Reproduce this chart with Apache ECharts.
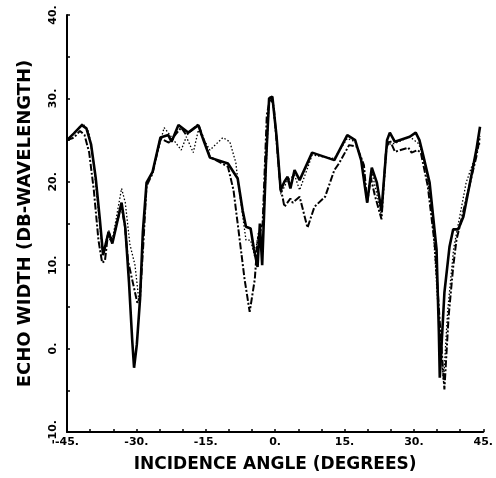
<!DOCTYPE html>
<html lang="en">
<head>
    <meta charset="UTF-8">
    <title>Echo width</title>
    <script type="text/javascript" src="https://cdn.jsdelivr.net/npm/echarts@6/dist/echarts.min.js"></script>
    <style>
        html, body { margin: 0; padding: 0; background: #fff; }
    </style>
</head>
<body>
<div id="main" style="width:496px;height:478px;"></div>
</body>

<script>
    // incidence angle (deg), echo width (dB-wavelength)
    const solidLine = [
        [-45, 25.0], [-43.5, 25.8], [-41.8, 26.8], [-40.8, 26.4], [-39.8, 24.5], [-38.8, 20.5],
        [-37.9, 15.5], [-37.2, 11.2], [-36.6, 12.6], [-36.0, 14.0], [-35.2, 12.6], [-33.2, 17.5],
        [-32.4, 14.5], [-31.6, 8.0], [-30.9, 1.0], [-30.5, -2.3], [-29.9, 0.5], [-29.2, 6.0],
        [-28.6, 14.0], [-27.8, 19.9], [-26.5, 21.2], [-24.8, 25.3], [-23.1, 25.6], [-22.4, 24.8],
        [-20.9, 26.8], [-18.8, 25.9], [-16.6, 26.8], [-15.5, 25.0], [-14.1, 22.9], [-10.2, 22.2],
        [-8.1, 20.4], [-7.0, 16.5], [-6.3, 14.6], [-5.3, 14.4], [-4.6, 12.0], [-3.8, 9.8],
        [-3.3, 15.0], [-2.8, 10.0], [-2.0, 22.0], [-1.3, 30.0], [-0.6, 30.2], [0.3, 25.5],
        [1.2, 19.0], [2.0, 20.0], [2.7, 20.6], [3.3, 19.2], [4.2, 21.4], [5.3, 20.2],
        [8.0, 23.5], [12.8, 22.6], [15.6, 25.6], [17.3, 25.0], [18.6, 22.6], [19.9, 17.5],
        [20.9, 21.7], [22.0, 19.9], [23.0, 16.5], [24.2, 25.0], [24.8, 25.9], [25.9, 24.8],
        [29.1, 25.4], [30.4, 25.9], [31.2, 25.0], [32.0, 23.2], [33.4, 19.9], [34.9, 11.9],
        [35.4, 2.0], [35.6, -3.5], [36.6, 6.7], [37.7, 12.2], [38.5, 14.3], [39.6, 14.3],
        [40.7, 15.8], [43.5, 23.8], [44.3, 26.6]
    ];
    const dashDotLine = [
        [-45, 25.0], [-43.5, 25.3], [-42.2, 26.1], [-41.2, 25.6], [-40.2, 23.5], [-39.2, 19.0],
        [-38.2, 13.0], [-37.4, 10.3], [-36.8, 10.5], [-36.2, 13.4], [-35.2, 12.8], [-33.3, 17.2],
        [-32.5, 14.8], [-31.8, 10.5], [-30.8, 8.0], [-29.8, 5.5], [-29.2, 6.2], [-28.5, 12.5],
        [-27.8, 19.5], [-26.5, 21.0], [-24.8, 25.2], [-23.0, 24.7], [-20.3, 26.5], [-19.2, 25.6],
        [-16.6, 26.9], [-14.1, 23.0], [-10.2, 21.8], [-9.0, 19.0], [-8.1, 15.0], [-6.6, 8.3],
        [-5.5, 4.4], [-4.4, 8.3], [-3.8, 13.0], [-2.7, 15.0], [-1.8, 28.0], [-1.0, 30.2],
        [-0.3, 29.0], [1.2, 19.0], [1.6, 18.2], [2.0, 17.0], [3.3, 18.0], [3.8, 17.5],
        [5.3, 18.2], [7.0, 14.5], [8.5, 17.0], [10.8, 18.2], [12.8, 21.4], [13.8, 22.2],
        [16.0, 24.4], [17.7, 24.2], [19.2, 22.0], [19.9, 17.5], [20.7, 20.5], [21.5, 18.5],
        [23.0, 15.5], [24.0, 24.0], [24.8, 25.0], [25.9, 23.6], [28.8, 24.1], [29.5, 23.5],
        [30.8, 23.8], [31.5, 23.5], [33.0, 19.5], [34.5, 12.5], [35.5, 4.0], [36.6, -4.9],
        [37.5, 3.8], [38.5, 9.8], [39.2, 13.0], [40.7, 16.5], [43.5, 23.0], [44.3, 25.5]
    ];
    const dottedLine = [
        [-45, 25.0], [-43.5, 25.8], [-41.6, 27.0], [-40.3, 26.0], [-39.3, 22.5], [-38.3, 17.0],
        [-37.3, 11.5], [-36.6, 12.8], [-36.0, 14.2], [-35.2, 13.0], [-33.2, 19.2], [-32.4, 17.5],
        [-31.4, 12.5], [-30.3, 10.0], [-29.4, 5.5], [-28.8, 10.5], [-27.8, 19.8], [-26.5, 21.2],
        [-24.0, 26.5], [-22.6, 25.5], [-20.3, 23.8], [-19.2, 25.4], [-17.7, 23.5], [-16.6, 26.2],
        [-14.1, 23.8], [-11.3, 25.3], [-9.8, 24.8], [-8.5, 22.3], [-8.0, 19.9], [-6.3, 13.0],
        [-5.3, 13.0], [-4.4, 11.0], [-3.6, 14.0], [-2.8, 11.0], [-2.0, 21.0], [-1.3, 29.5],
        [-0.6, 30.0], [0.3, 25.0], [1.2, 18.5], [2.7, 20.2], [4.2, 20.8], [5.3, 19.0],
        [8.0, 23.2], [12.8, 22.8], [15.6, 25.2], [17.3, 24.8], [18.6, 22.8], [19.9, 18.0],
        [20.9, 21.2], [22.0, 18.5], [23.0, 16.0], [24.2, 24.5], [25.9, 24.6], [29.1, 25.4],
        [31.0, 24.6], [32.4, 22.5], [34.0, 16.0], [35.2, 5.0], [36.4, -4.0], [37.3, 4.5],
        [38.6, 12.0], [41.3, 19.9], [44.3, 24.7]
    ];

    const xTicks = [-45, -30, -15, 0, 15, 30, 45];
    const yTicks = [-10, 0, 10, 20, 30, 40];

    const labelFont = { fontFamily: 'DejaVu Sans', fontWeight: 'bold', fontSize: 11, color: '#000' };

    let myChart = echarts.init(document.getElementById('main'), null, { renderer: 'canvas' });

    let option = {
        backgroundColor: '#fff',
        animation: false,
        grid: { left: 67, right: 9, top: 15, bottom: 45 },
        xAxis: {
            type: 'value',
            min: xTicks[0], max: xTicks[xTicks.length - 1], interval: 15,
            name: 'INCIDENCE ANGLE (DEGREES)',
            nameLocation: 'middle', nameGap: 24,
            nameTextStyle: { fontFamily: 'DejaVu Sans', fontWeight: 'bold', fontSize: 17, color: '#000' },
            axisLine: { onZero: false, lineStyle: { color: '#000', width: 2 } },
            axisTick: { show: true, inside: true, length: 3, lineStyle: { color: '#000', width: 1.5 } },
            minorTick: { show: true, splitNumber: 3, length: 3, lineStyle: { color: '#000', width: 1.5 } },
            splitLine: { show: false },
            axisLabel: Object.assign({ margin: 5, formatter: v => v + '.' }, labelFont)
        },
        yAxis: {
            type: 'value',
            min: yTicks[0], max: yTicks[yTicks.length - 1], interval: 10,
            name: 'ECHO WIDTH (DB-WAVELENGTH)',
            nameLocation: 'middle', nameGap: 33, nameRotate: 90,
            nameTextStyle: { fontFamily: 'DejaVu Sans', fontWeight: 'bold', fontSize: 18, color: '#000' },
            axisLine: { onZero: false, lineStyle: { color: '#000', width: 2 } },
            axisTick: { show: true, inside: true, length: 3, lineStyle: { color: '#000', width: 1.5 } },
            minorTick: { show: true, splitNumber: 2, length: 3, lineStyle: { color: '#000', width: 1.5 } },
            splitLine: { show: false },
            axisLabel: Object.assign({ margin: 8, rotate: 90, formatter: v => v + '.' }, labelFont)
        },
        series: [
            {
                type: 'line', data: dottedLine, symbol: 'none',
                lineStyle: { color: '#000', width: 1.3, type: [1.5, 2] }
            },
            {
                type: 'line', data: dashDotLine, symbol: 'none',
                lineStyle: { color: '#000', width: 2, type: [7, 2, 2, 2] }
            },
            {
                type: 'line', data: solidLine, symbol: 'none',
                lineStyle: { color: '#000', width: 2.6 }
            }
        ]
    };

    myChart.setOption(option);
</script>
</html>
